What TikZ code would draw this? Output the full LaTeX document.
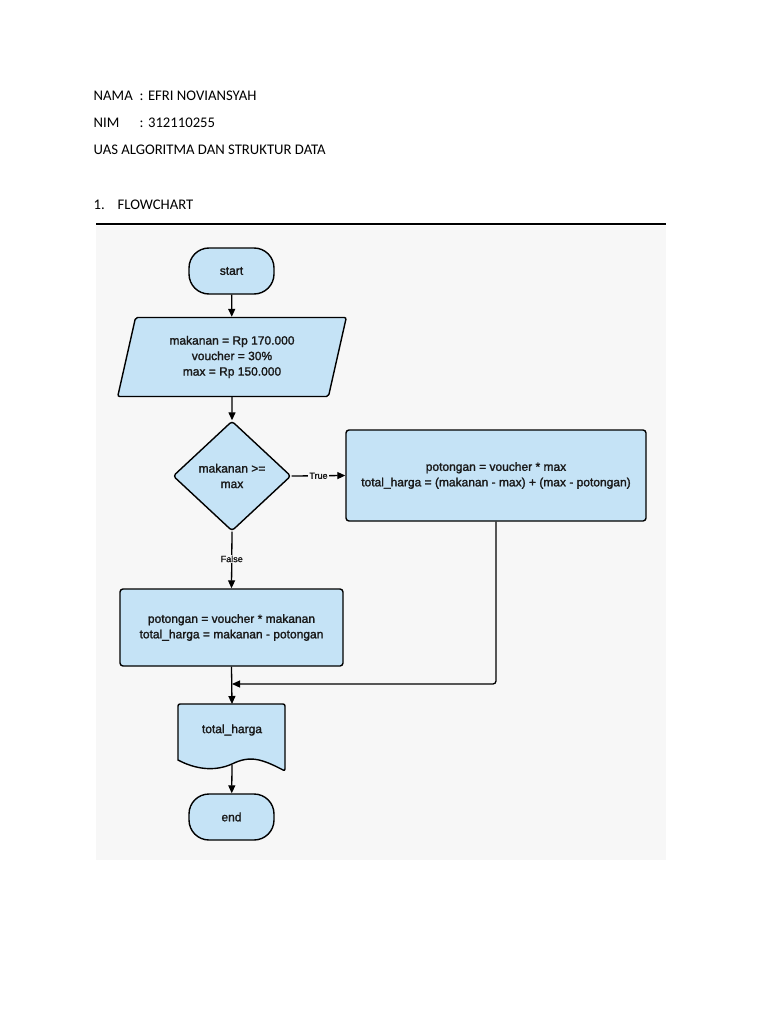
\documentclass[tikz,border=0pt]{standalone}
\usepackage{fontspec}
\setmainfont{Carlito}
\newfontfamily\chartfont[FakeBold=1.6]{Liberation Sans}
\usetikzlibrary{arrows.meta,shapes.geometric}
\definecolor{chartblue}{RGB}{197,227,246}
\definecolor{chartbg}{RGB}{247,247,247}
\definecolor{charttext}{RGB}{25,25,25}

\begin{document}
\begin{tikzpicture}[x=1pt, y=-1pt, line width=1.4pt,
  head/.style={anchor=base west, inner sep=0pt, font=\fontsize{14.7}{17}\selectfont},
  chart/.style={draw, fill=chartblue, text=charttext, align=center,
    font=\chartfont\fontsize{12}{15.5}\selectfont},
  term/.style={chart, rounded corners=20pt, minimum width=85pt, minimum height=46pt},
  iobox/.style={chart, trapezium, trapezium left angle=76, trapezium right angle=104,
    trapezium stretches=true, rounded corners=2pt, minimum width=229pt, minimum height=79pt},
  decide/.style={chart, diamond, rounded corners=3pt, inner sep=0pt, minimum width=118pt, minimum height=110pt},
  procbox/.style={chart, rectangle, rounded corners=3pt},
  lbl/.style={fill=chartbg, inner sep=1pt, text=charttext, font=\chartfont\fontsize{9}{10}\selectfont},
  flow/.style={line width=1.3pt, -{Triangle[length=8pt,width=7pt]}}]
  % Page
  \useasboundingbox[fill=white] (0,0) rectangle (768,1024);
  % Heading
  \node[head] (nama) at (93,101) {NAMA};
  \node[head] (namav) at (139,101) {: EFRI NOVIANSYAH};
  \node[head] (nim) at (93,128) {NIM};
  \node[head] (nimv) at (139,128) {: 312110255};
  \node[head] (uas) at (93,155) {UAS ALGORITMA DAN STRUKTUR DATA};
  \node[head] (num) at (93,210) {1.};
  \node[head] (sect) at (117,210) {FLOWCHART};
  \draw[line width=1.2pt] (96,224) -- (666,224);
  % Chart background
  \fill[chartbg] (96,226) rectangle (666,860);
  % Shapes
  \node[term] (start) at (231.5,271) {start};
  \node[iobox] (input) at (232,357) {makanan = Rp 170.000\\ voucher = 30\%\\ max = Rp 150.000};
  \node[decide] (cek) at (232,476) {makanan >=\\ max};
  \node[procbox, minimum width=300pt, minimum height=91pt] (ya) at (496,475.5)
    {potongan = voucher * max\\ total\_harga = (makanan - max) + (max - potongan)};
  \node[procbox, minimum width=223pt, minimum height=77pt] (tidak) at (231.5,627.5)
    {potongan = voucher * makanan\\ total\_harga = makanan - potongan};
  % Output document with wavy bottom
  \draw[fill=chartblue, rounded corners=2pt] (178,704) -- (285,704) -- (285,771)
    [sharp corners] .. controls (262,759) and (250,755) .. (232,764)
    .. controls (214,772) and (195,769) .. (178,760) [rounded corners=2pt] -- cycle;
  \node[text=charttext, font=\chartfont\fontsize{12}{15.5}\selectfont, minimum width=107pt, minimum height=10pt] (hasil) at (232,730) {total\_harga};
  \coordinate (hasiltop) at (232,704);
  \coordinate (hasilbot) at (232,765);
  \node[term] (end) at (231.5,817) {end};
  % Connectors
  \draw[flow] (start) -- (input);
  \draw[flow] (input) -- (cek);
  \draw[flow] (cek.east) -- node[lbl] {True} (ya.west);
  \draw[flow] (cek.south) -- node[lbl, pos=0.48] {False} (tidak.north);
  \coordinate (gabung) at (232,684);
  \draw[flow, rounded corners=3pt] (ya.south) |- (gabung);
  \draw[flow] (tidak.south) -- (hasiltop);
  \draw[flow] (hasilbot) -- (end);
\end{tikzpicture}
\end{document}
